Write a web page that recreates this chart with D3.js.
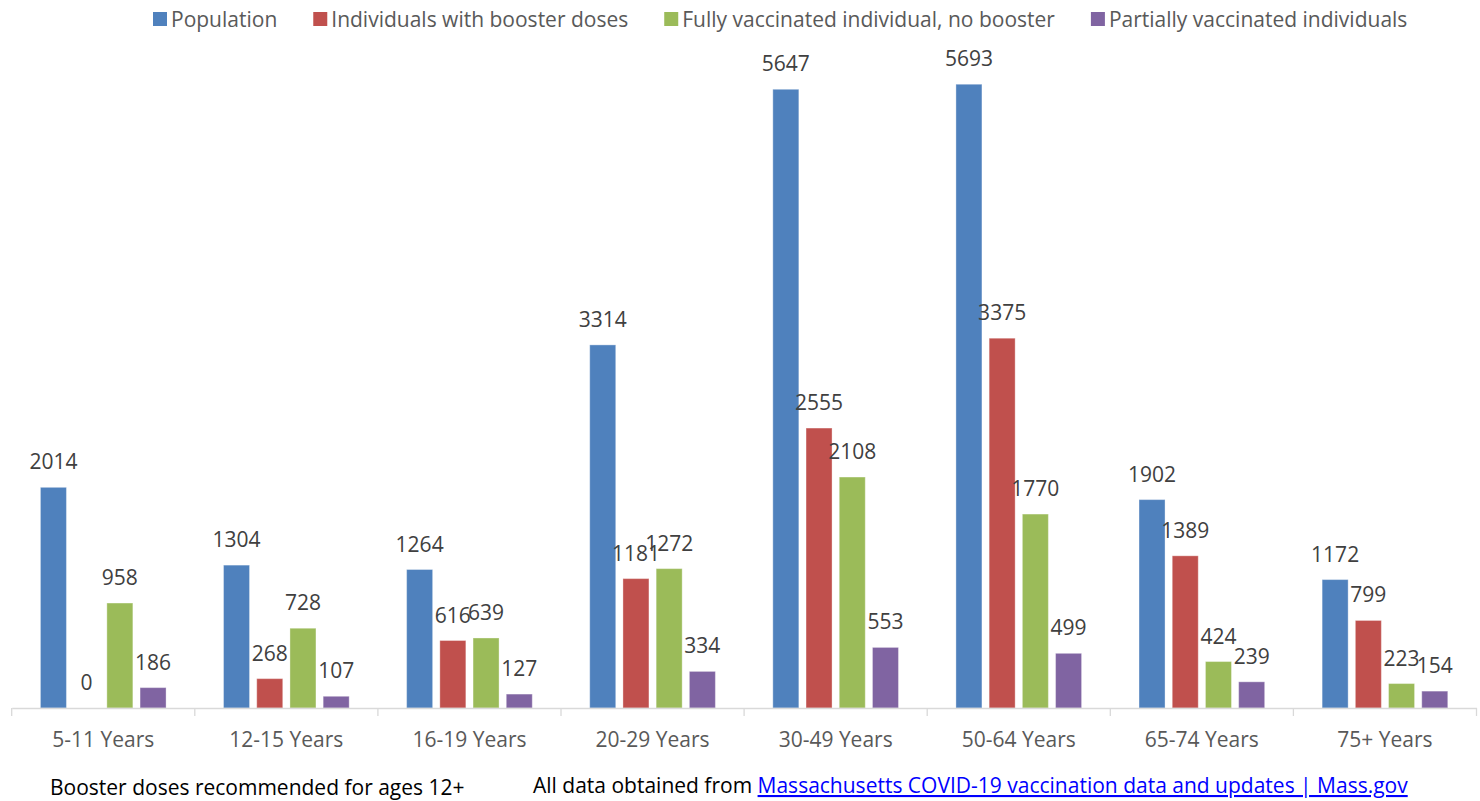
<!DOCTYPE html>
<html>
<head>
    <meta charset="utf-8">
    <script type="text/javascript" src="https://cdn.jsdelivr.net/npm/d3@7"></script>
    <style>
        body { margin: 0px; background: white; }
        text { font-family: "Open Sans", "Noto Sans", sans-serif; }
    </style>
</head>

<body>
    <!--The chart goes in here-->
    <svg id="chart" width="1480" height="801"></svg>

    <script>
        // data
        var ageGroups = ["5-11 Years", "12-15 Years", "16-19 Years", "20-29 Years",
                         "30-49 Years", "50-64 Years", "65-74 Years", "75+ Years"];
        var seriesNames = ["Population", "Individuals with booster doses",
                           "Fully vaccinated individual, no booster", "Partially vaccinated individuals"];
        var population = [2014, 1304, 1264, 3314, 5647, 5693, 1902, 1172];
        var boosted = [0, 268, 616, 1181, 2555, 3375, 1389, 799];
        var fullyNoBooster = [958, 728, 639, 1272, 2108, 1770, 424, 223];
        var partial = [186, 107, 127, 334, 553, 499, 239, 154];
        var colors = ["#4F81BD", "#C0504D", "#9BBB59", "#8064A2"];

        var footNote = "Booster doses recommended for ages 12+";
        var sourceLead = "All data obtained from ";
        var sourceLink = "Massachusetts COVID-19 vaccination data and updates | Mass.gov";

        var allSeries = [population, boosted, fullyNoBooster, partial];

        var svg = d3.select("#chart");
        var left = 11.7, right = 1476.5, baseY = 708, topY = 50.6;
        var fontSize = "21px";

        //scales
        var x0 = d3.scaleBand().domain(ageGroups).range([left, right]).padding(0);
        var x1 = d3.scaleBand().domain(seriesNames).range([0, x0.bandwidth()])
                   .paddingInner(0.217).paddingOuter(0.865);
        var y = d3.scaleLinear().domain([0, 6000]).range([baseY, topY]);

        var rows = ageGroups.map(function (g, i) {
            return { group: g, values: seriesNames.map(function (s, j) {
                return { series: s, value: allSeries[j][i], color: colors[j] };
            }) };
        });

        var groups = svg.selectAll("g.group")
            .data(rows)
            .enter()
            .append("g")
            .attr("class", "group")
            .attr("transform", d => "translate(" + x0(d.group) + ",0)");

        groups.selectAll("rect")
            .data(d => d.values)
            .enter()
            .append("rect")
            .attr("x", d => x1(d.series))
            .attr("width", x1.bandwidth())
            .attr("y", d => y(d.value))
            .attr("height", d => baseY - y(d.value))
            .style("fill", d => d.color)
            .style("stroke", "rgba(255,255,255,0.35)")
            .style("stroke-width", "1px");

        //value labels over every bar
        groups.selectAll("text.val")
            .data(d => d.values)
            .enter()
            .append("text")
            .attr("class", "val")
            .attr("x", d => x1(d.series) + x1.bandwidth() / 2)
            .attr("y", d => y(d.value) - 18)
            .attr("text-anchor", "middle")
            .style("font-size", fontSize)
            .style("fill", "#404040")
            .text(d => d.value);

        //x axis: line, ticks between the categories, labels
        var axis = svg.append("g").attr("transform", "translate(0," + baseY + ")");
        axis.call(d3.axisBottom(x0).tickSize(0).tickPadding(24));
        axis.select(".domain").attr("stroke", "#D9D9D9").attr("stroke-width", 1.3);
        axis.selectAll(".tick text")
            .style("font-family", "'Open Sans', 'Noto Sans', sans-serif")
            .style("font-size", fontSize)
            .style("fill", "#595959");
        var edges = ageGroups.map(g => x0(g)).concat([right]);
        axis.selectAll("line.sep")
            .data(edges)
            .enter()
            .append("line")
            .attr("class", "sep")
            .attr("x1", d => d).attr("x2", d => d)
            .attr("y1", 0).attr("y2", 8)
            .attr("stroke", "#D9D9D9")
            .attr("stroke-width", 1.3);

        //legend along the top
        var legend = svg.append("g").attr("transform", "translate(153,19)");
        var lx = 0;
        seriesNames.forEach(function (name, i) {
            var item = legend.append("g").attr("transform", "translate(" + lx + ",0)");
            item.append("rect")
                .attr("x", 0).attr("y", -7)
                .attr("width", 14).attr("height", 14)
                .style("fill", colors[i]);
            var t = item.append("text")
                .attr("x", 18).attr("y", 7.5)
                .style("font-size", fontSize)
                .style("fill", "#595959")
                .text(name);
            lx += 18 + t.node().getComputedTextLength() + 36;
        });

        //notes underneath
        svg.append("text")
            .attr("x", 50).attr("y", 795)
            .style("font-size", fontSize)
            .style("fill", "#000")
            .text(footNote);
        var src = svg.append("text")
            .attr("x", 533).attr("y", 793)
            .style("font-size", fontSize)
            .style("fill", "#000");
        src.append("tspan").text(sourceLead);
        src.append("tspan")
            .style("fill", "#0000FF")
            .style("text-decoration", "underline")
            .text(sourceLink);
    </script>
</body>
</html>
